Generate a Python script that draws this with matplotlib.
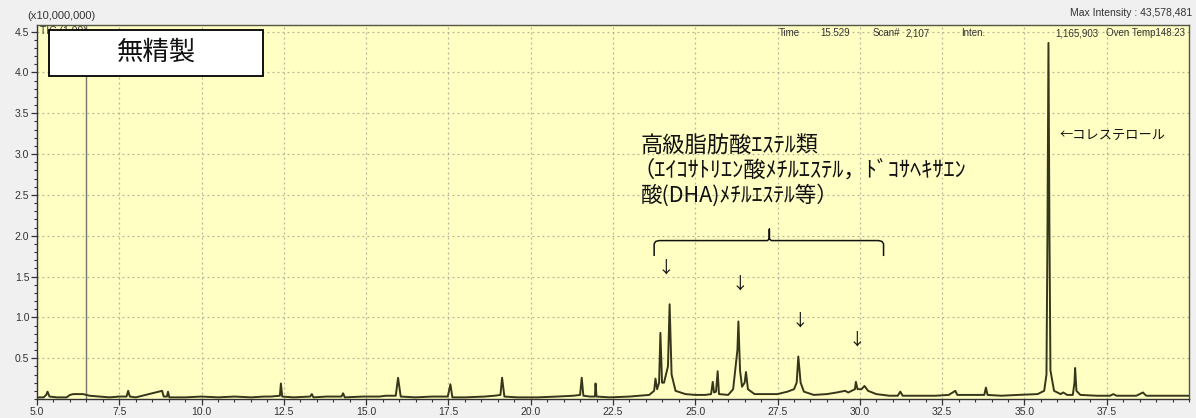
import matplotlib
matplotlib.use("Agg")
import matplotlib.pyplot as plt
from matplotlib.patches import Rectangle
from matplotlib.ticker import MultipleLocator, FixedLocator

# ---------------- data (retention time [min], intensity [x10,000,000]) ----------------
trace_t = [5.0, 5.2, 5.28, 5.32, 5.38, 5.6, 5.9, 6.0, 6.1, 6.4, 6.6, 6.9, 7.2, 7.5,
           7.72, 7.77, 7.82, 8.0, 8.3, 8.6, 8.8, 8.85, 8.95, 8.98, 9.02, 9.5, 10.0,
           10.5, 11.0, 11.5, 11.9, 12.1, 12.38, 12.41, 12.45, 12.8, 13.3, 13.35, 13.4,
           13.8, 14.25, 14.3, 14.35, 14.9, 15.4, 15.6, 15.9, 15.97, 16.05, 16.5, 17.0,
           17.48, 17.56, 17.62, 18.0, 18.6, 18.9, 19.08, 19.13, 19.2, 19.6, 20.2, 20.8,
           21.3, 21.5, 21.55, 21.6, 21.8, 21.95, 21.97, 22.0, 22.4, 23.0, 23.6, 23.75,
           23.79, 23.84, 23.9, 23.94, 23.99, 24.05, 24.17, 24.22, 24.28, 24.4, 24.7,
           25.0, 25.3, 25.48, 25.53, 25.57, 25.63, 25.68, 25.72, 26.0, 26.15, 26.25,
           26.28, 26.31, 26.36, 26.42, 26.5, 26.54, 26.6, 26.8, 27.2, 27.5, 27.8, 28.0,
           28.08, 28.13, 28.2, 28.3, 28.6, 29.0, 29.3, 29.55, 29.65, 29.85, 29.88,
           29.93, 30.05, 30.14, 30.25, 30.5, 30.9, 31.15, 31.23, 31.3, 31.8, 32.3,
           32.7, 32.9, 32.96, 33.4, 33.78, 33.83, 33.88, 34.3, 34.8, 35.4, 35.6, 35.67,
           35.70, 35.73, 35.76, 35.79, 35.9, 36.1, 36.18, 36.3, 36.47, 36.52, 36.54,
           36.58, 36.7, 37.2, 37.6, 37.7, 37.8, 38.4, 38.6, 38.7, 39.2, 40.0]
trace_v = [0.02, 0.02, 0.05, 0.09, 0.03, 0.02, 0.02, 0.05, 0.06, 0.06, 0.04, 0.03, 0.02, 0.03,
           0.03, 0.10, 0.03, 0.02, 0.05, 0.08, 0.10, 0.03, 0.03, 0.09, 0.02, 0.02, 0.03,
           0.02, 0.03, 0.02, 0.03, 0.03, 0.04, 0.19, 0.03, 0.02, 0.03, 0.06, 0.02,
           0.03, 0.03, 0.07, 0.02, 0.03, 0.03, 0.04, 0.04, 0.26, 0.03, 0.02, 0.03,
           0.03, 0.18, 0.02, 0.02, 0.03, 0.04, 0.05, 0.26, 0.03, 0.02, 0.02, 0.03,
           0.04, 0.05, 0.26, 0.04, 0.03, 0.03, 0.19, 0.03, 0.02, 0.03, 0.05, 0.10,
           0.25, 0.12, 0.20, 0.81, 0.20, 0.20, 0.40, 1.16, 0.30, 0.10, 0.06,
           0.05, 0.05, 0.06, 0.21, 0.08, 0.09, 0.34, 0.06, 0.05, 0.12, 0.49,
           0.60, 0.95, 0.35, 0.15, 0.20, 0.33, 0.12, 0.06, 0.06, 0.06, 0.09, 0.12,
           0.20, 0.52, 0.20, 0.09, 0.05, 0.06, 0.08, 0.10, 0.08, 0.12, 0.21,
           0.12, 0.12, 0.16, 0.10, 0.06, 0.04, 0.04, 0.09, 0.04, 0.04, 0.04,
           0.05, 0.10, 0.05, 0.05, 0.05, 0.14, 0.05, 0.04, 0.05, 0.06, 0.10, 0.30,
           2.05, 4.36, 2.05, 0.35, 0.10, 0.06, 0.08, 0.05, 0.05, 0.20, 0.38,
           0.10, 0.05, 0.04, 0.04, 0.06, 0.04, 0.04, 0.08, 0.04, 0.04, 0.04]
solvent_t = 6.48          # off-scale solvent line
x_ticks = [5.0, 7.5, 10.0, 12.5, 15.0, 17.5, 20.0, 22.5, 25.0, 27.5, 30.0, 32.5, 35.0, 37.5]
x_labels = ["5.0", "7.5", "10.0", "12.5", "15.0", "17.5", "20.0", "22.5", "25.0",
            "27.5", "30.0", "32.5", "35.0", "37.5"]
y_ticks = [0.5, 1.0, 1.5, 2.0, 2.5, 3.0, 3.5, 4.0, 4.5]
y_labels = ["0.5", "1.0", "1.5", "2.0", "2.5", "3.0", "3.5", "4.0", "4.5"]
header_items = ["Time", "15.529", "Scan#", "2,107", "Inten.", "1,165,903", "Oven Temp148.23"]

W, H = 1196, 418
JP = ["Noto Sans CJK JP", "DejaVu Sans"]
LAT = ["Liberation Sans", "DejaVu Sans"]

def px(x, y):
    return x / W, 1 - y / H

fig = plt.figure(figsize=(W / 100, H / 100), dpi=100, facecolor="#f0f0f0")
ax = fig.add_axes([37 / W, 19 / H, 1152 / W, 374 / H])
ax.set_facecolor("#ffffc4")

ax.set_xlim(5.0, 40.0)
ax.set_ylim(0.0, 4.58)

ax.xaxis.set_major_locator(FixedLocator(x_ticks))
ax.set_xticklabels(x_labels, fontfamily=LAT, fontsize=7.5, color="#333333")
ax.yaxis.set_major_locator(FixedLocator(y_ticks))
ax.set_yticklabels(y_labels, fontfamily=LAT, fontsize=7.5, color="#333333")
ax.xaxis.set_minor_locator(MultipleLocator(0.5))
ax.yaxis.set_minor_locator(MultipleLocator(0.1))
ax.tick_params(axis="both", which="major", direction="out", length=4, width=0.9,
               color="#333333", pad=1.5)
ax.tick_params(axis="both", which="minor", direction="out", length=2.5, width=0.8,
               color="#333333")
ax.grid(True, which="major", color="#b4b498", linestyle=(0, (1.5, 2.5)), linewidth=0.9)
ax.set_axisbelow(True)
for s in ax.spines.values():
    s.set_color("#555544")
    s.set_linewidth(1.0)
ax.spines["left"].set_color("#333333")
ax.spines["bottom"].set_color("#333333")

# traces
ax.axvline(solvent_t, color="#77776a", linewidth=1.0, zorder=2)
ax.plot(trace_t, trace_v, color="#36361a", linewidth=1.4, zorder=3, solid_joinstyle="round")

# header texts
fig.text(*px(27, 16), "(x10,000,000)", fontfamily=LAT, fontsize=8, color="#333333",
         ha="left", va="center")
fig.text(*px(1192, 13), "Max Intensity : 43,578,481", fontfamily=LAT, fontsize=7.5,
         color="#333333", ha="right", va="center")
header_x_end = [800, 850, 900, 930, 985, 1098, 1185]
for hx, item in zip(header_x_end, header_items):
    fig.text(*px(hx, 36), item, fontfamily=LAT, fontsize=7, color="#333333",
             ha="right", va="baseline", zorder=5)
fig.text(*px(40, 31), "TIC (1.00)", fontfamily=LAT, fontsize=7.5, color="#333333",
         ha="left", va="center", zorder=5)

# label box
box = Rectangle(px(49, 76), 214 / W, 46 / H, transform=fig.transFigure,
                facecolor="white", edgecolor="black", linewidth=1.3, zorder=10)
fig.patches.append(box)
fig.text(*px(156, 52), "無精製", fontfamily=JP, fontsize=19, color="#111111",
         ha="center", va="center", zorder=11)

# annotation texts
fig.text(*px(641, 145), "高級脂肪酸ｴｽﾃﾙ類", fontfamily=JP, fontsize=16,
         color="#111111", ha="left", va="center")
fig.text(*px(632, 170), "（ｴｲｺｻﾄﾘｴﾝ酸ﾒﾁﾙｴｽﾃﾙ，ﾄﾞｺｻﾍｷｻｴﾝ", fontfamily=JP, fontsize=16,
         color="#111111", ha="left", va="center")
fig.text(*px(641, 195), "酸(DHA)ﾒﾁﾙｴｽﾃﾙ等）", fontfamily=JP, fontsize=15.5,
         color="#111111", ha="left", va="center")
fig.text(*px(1060, 135), "←コレステロール", fontfamily=JP, fontsize=9.5,
         color="#111111", ha="left", va="center")

# arrows above peaks
arrow_y = [268, 284, 321, 340]
arrow_x = [666, 740, 800, 857]
for xx, yy in zip(arrow_x, arrow_y):
    fig.text(*px(xx, yy), "↓", fontfamily=JP, fontsize=12, color="#111111",
             ha="center", va="center")

# bracket
x0, x1, xm = 23.75, 30.72, 27.25
yb, yd, yt = 1.94, 1.76, 2.08
bx = [x0, x0, x0 + 0.05, x0 + 0.15, xm - 0.06, xm, xm, xm, xm + 0.06, x1 - 0.15, x1 - 0.05, x1, x1]
by = [yd, yb - 0.04, yb - 0.01, yb, yb, yb + 0.02, yt, yb + 0.02, yb, yb, yb - 0.01, yb - 0.04, yd]
ax.plot(bx, by, color="#111111", linewidth=1.1, zorder=4)

fig.savefig("out.png", dpi=100, facecolor=fig.get_facecolor())
